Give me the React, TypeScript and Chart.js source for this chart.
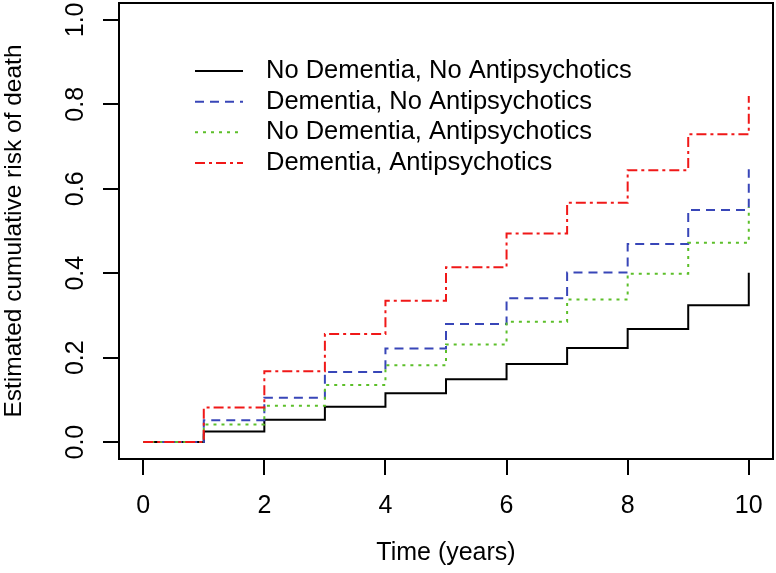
import React, { useEffect, useRef } from 'react';
import { Chart, registerables } from 'chart.js';

Chart.register(...registerables);

// ---- data ----
const times = [0, 1, 2, 3, 4, 5, 6, 7, 8, 9, 10];
const noDementiaNoAntipsych = [0, 0.025, 0.053, 0.084, 0.116, 0.149, 0.185, 0.223, 0.268, 0.324, 0.401];
const dementiaNoAntipsych = [0, 0.052, 0.105, 0.166, 0.222, 0.28, 0.341, 0.402, 0.469, 0.55, 0.646];
const noDementiaAntipsych = [0, 0.042, 0.086, 0.135, 0.182, 0.231, 0.285, 0.338, 0.399, 0.472, 0.557];
const dementiaAntipsych = [0, 0.082, 0.168, 0.256, 0.335, 0.414, 0.494, 0.567, 0.644, 0.729, 0.82];
const seriesLabels = [
  'No Dementia, No Antipsychotics',
  'Dementia, No Antipsychotics',
  'No Dementia, Antipsychotics',
  'Dementia, Antipsychotics',
];
const xTicks = [0, 2, 4, 6, 8, 10];
const yTicks = [0, 0.2, 0.4, 0.6, 0.8, 1.0];
const xTitle = 'Time (years)';
const yTitle = 'Estimated cumulative risk of death';

// ---- styles ----
const FONT = '"Liberation Sans", Arial, sans-serif';
const FS = 25;
const LEG_FS = 25.5;
const colors = ['#000000', '#3846b8', '#5cbf2a', '#f01818'];
const dashes: number[][] = [[], [9, 6], [3, 5], [10, 4, 3, 4]];

const boxPlugin = {
  id: 'rbox',
  afterDraw(chart: any) {
    const { ctx, chartArea } = chart;
    ctx.save();
    ctx.strokeStyle = '#000';
    ctx.lineWidth = 2;
    ctx.strokeRect(chartArea.left, chartArea.top, chartArea.right - chartArea.left, chartArea.bottom - chartArea.top);
    ctx.restore();
  },
};

const legendPlugin = {
  id: 'rlegend',
  afterDraw(chart: any) {
    const ctx = chart.ctx;
    ctx.save();
    ctx.font = `${LEG_FS}px ${FONT}`;
    ctx.textBaseline = 'middle';
    ctx.textAlign = 'left';
    chart.data.datasets.forEach((ds: any, i: number) => {
      const y = 71 + i * 30.67;
      ctx.strokeStyle = ds.borderColor;
      ctx.lineWidth = ds.borderWidth;
      ctx.setLineDash(ds.borderDash || []);
      ctx.beginPath();
      ctx.moveTo(195, y);
      ctx.lineTo(243, y);
      ctx.stroke();
      ctx.setLineDash([]);
      ctx.fillStyle = '#000';
      ctx.fillText(ds.label, 266, y);
    });
    ctx.restore();
  },
};

export default function App() {
  const ref = useRef<HTMLCanvasElement>(null);
  useEffect(() => {
    if (!ref.current) return;
    const series = [noDementiaNoAntipsych, dementiaNoAntipsych, noDementiaAntipsych, dementiaAntipsych];
    const chart = new Chart(ref.current, {
      type: 'line',
      data: {
        datasets: series.map((vals, i) => ({
          label: seriesLabels[i],
          data: times.map((t, j) => ({ x: t, y: vals[j] })),
          borderColor: colors[i],
          backgroundColor: colors[i],
          borderWidth: 2,
          borderDash: dashes[i],
          pointRadius: 0,
          stepped: 'before' as const,
          fill: false,
          order: 4 - i,
        })),
      },
      options: {
        animation: false,
        responsive: false,
        devicePixelRatio: 1,
        layout: { padding: { top: 3, right: 3, left: 0, bottom: 0 } },
        plugins: { legend: { display: false }, tooltip: { enabled: false } },
        scales: {
          x: {
            type: 'linear',
            min: -0.4,
            max: 10.4,
            afterBuildTicks: (s: any) => {
              s.ticks = xTicks.map((v) => ({ value: v }));
            },
            afterFit: (s: any) => {
              s.height = 114;
              s.paddingLeft = 0;
              s.paddingRight = 0;
            },
            ticks: {
              autoSkip: false,
              maxRotation: 0,
              minRotation: 0,
              padding: 16,
              color: '#000',
              font: { family: FONT, size: FS },
              callback: (v: any) => String(v),
            },
            grid: { drawOnChartArea: false, drawTicks: true, tickLength: 16, color: '#000', lineWidth: 2 },
            border: { display: false },
            title: {
              display: true,
              text: xTitle,
              color: '#000',
              font: { family: FONT, size: FS },
              padding: { top: 0, bottom: 5 },
            },
          },
          y: {
            type: 'linear',
            min: -0.04,
            max: 1.04,
            afterBuildTicks: (s: any) => {
              s.ticks = yTicks.map((v) => ({ value: v }));
            },
            afterFit: (s: any) => {
              s.width = 119;
              s.paddingTop = 0;
              s.paddingBottom = 0;
            },
            ticks: {
              autoSkip: false,
              minRotation: 90,
              maxRotation: 90,
              crossAlign: 'center',
              padding: 10,
              color: '#000',
              font: { family: FONT, size: FS },
              callback: (v: any) => Number(v).toFixed(1),
            },
            grid: { drawOnChartArea: false, drawTicks: true, tickLength: 16, color: '#000', lineWidth: 2 },
            border: { display: false },
            title: {
              display: true,
              text: yTitle,
              color: '#000',
              font: { family: FONT, size: 24.5, lineHeight: 1.15 },
              padding: { top: 0, bottom: 0 },
            },
          },
        },
      },
      plugins: [boxPlugin, legendPlugin],
    } as any);
    return () => chart.destroy();
  }, []);
  return (
    <div style={{ position: 'absolute', left: 0, top: 0, width: 776, height: 573, background: '#fff' }}>
      <canvas ref={ref} width={776} height={573} style={{ display: 'block' }} />
    </div>
  );
}
